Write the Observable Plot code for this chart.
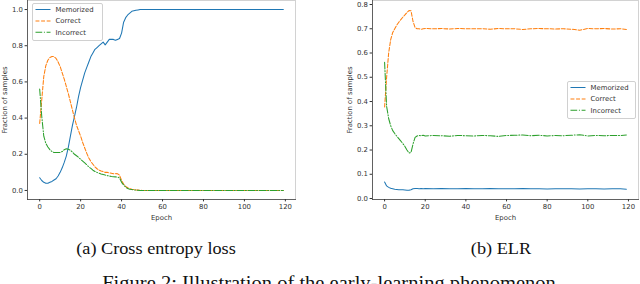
<!DOCTYPE html>
<html>
<head>
<meta charset="utf-8">
<script src="https://cdn.jsdelivr.net/npm/d3@7"></script>
<script src="https://cdn.jsdelivr.net/npm/@observablehq/plot@0.6"></script>
<style>
  html, body { margin: 0; padding: 0; background: #fff; overflow: hidden; }
  #fig { position: relative; width: 640px; height: 284px; overflow: hidden; background: #fff; }
  .panel { position: absolute; top: 0; }
  .legend { position: absolute; background: rgba(255,255,255,0.8); border: 0.6px solid #d0d0d0; border-radius: 2px; }
  .cap { position: absolute; font-family: "Liberation Serif", "DejaVu Serif", serif; color: #111; white-space: nowrap; transform-origin: center; }
</style>
</head>
<body>
<div id="fig"></div>
<script>
// ---------- data ----------
const seriesNames = ["Memorized", "Correct", "Incorrect"];
const seriesColors = ["#1f77b4", "#ff7f0e", "#2ca02c"];
const seriesDash = [null, "3.9,1.7", "6.7,1.7,1.0,1.7"];

const xTicks = [0, 20, 40, 60, 80, 100, 120];
const ceYTicks = [0, 0.2, 0.4, 0.6, 0.8, 1.0];
const elrYTicks = [0, 0.1, 0.2, 0.3, 0.4, 0.5, 0.6, 0.7, 0.8];

// (a) Cross entropy loss
const ceEpoch = [0,1,2,3,4,5,6,7,8,9,10,11,12,13,14,15,16,17,18,19,20,21,22,23,24,25,26,27,28,29,30,31,32,33,34,35,36,37,38,39,40,41,42,43,44,45,46,47,48,49,50,55,60,65,70,75,80,85,90,95,100,105,110,115,119];
const ceMemorized = [0.07,0.055,0.045,0.04,0.04,0.045,0.05,0.058,0.065,0.08,
  0.1,0.125,0.155,0.19,0.24,0.3,0.36,0.41,0.46,0.52,
  0.57,0.61,0.65,0.68,0.71,0.74,0.76,0.78,0.79,0.8,
  0.81,0.82,0.805,0.82,0.835,0.835,0.835,0.83,0.835,0.84,
  0.87,0.93,0.955,0.97,0.98,0.99,0.993,0.996,0.998,1.0,1.0,
  1,1,1,1,1,1,1,1,1,1,1,1,1,1];
const ceCorrect = [0.37,0.5,0.63,0.69,0.72,0.735,0.74,0.74,0.73,0.71,
  0.685,0.65,0.615,0.575,0.535,0.49,0.445,0.4,0.36,0.33,
  0.3,0.265,0.235,0.205,0.18,0.16,0.145,0.13,0.12,0.112,
  0.107,0.104,0.1,0.1,0.097,0.095,0.092,0.093,0.092,0.085,
  0.055,0.035,0.022,0.015,0.01,0.007,0.005,0.003,0.002,0.001,0,
  0,0,0,0,0,0,0,0,0,0,0,0,0,0];
const ceIncorrect = [0.56,0.41,0.3,0.26,0.24,0.225,0.215,0.21,0.21,0.21,
  0.21,0.215,0.225,0.23,0.228,0.222,0.212,0.2,0.192,0.183,
  0.172,0.162,0.152,0.142,0.13,0.122,0.112,0.105,0.1,0.095,
  0.091,0.088,0.085,0.082,0.08,0.077,0.076,0.075,0.074,0.07,
  0.045,0.03,0.018,0.011,0.007,0.005,0.003,0.002,0.001,0,0,
  0,0,0,0,0,0,0,0,0,0,0,0,0,0];

// (b) ELR
const elrEpoch = [0,1,2,3,4,5,6,7,8,9,10,11,12,13,14,15,16,17,18,19,20,24,28,32,36,40,44,48,52,56,60,64,68,72,76,80,84,88,92,96,100,104,108,112,116,119];
const elrMemorized = [0.068,0.052,0.046,0.042,0.04,0.038,0.037,0.036,0.036,0.036,
  0.035,0.034,0.034,0.036,0.04,0.041,0.041,0.04,0.041,0.04,0.041,
  0.04,0.041,0.04,0.04,0.041,0.04,0.04,0.041,0.04,0.04,0.04,0.041,0.04,0.04,0.039,0.04,0.04,0.04,0.039,0.04,0.04,0.039,0.04,0.04,
  0.038];
const elrCorrect = [0.377,0.5,0.6,0.655,0.685,0.7,0.715,0.727,0.738,0.748,
  0.757,0.767,0.775,0.774,0.73,0.705,0.7,0.7,0.698,0.7,0.701,
  0.7,0.701,0.699,0.701,0.7,0.7,0.7,0.698,0.701,0.7,0.7,0.697,0.7,0.701,0.7,0.699,0.7,0.698,0.694,0.701,0.7,0.701,0.699,0.7,
  0.697];
const elrIncorrect = [0.562,0.38,0.33,0.3,0.28,0.268,0.257,0.247,0.237,0.226,
  0.215,0.2,0.188,0.19,0.225,0.252,0.258,0.26,0.259,0.261,0.258,
  0.26,0.259,0.257,0.26,0.259,0.258,0.26,0.259,0.256,0.26,0.261,0.262,0.259,0.261,0.258,0.26,0.259,0.261,0.263,0.258,0.26,0.259,0.26,0.26,
  0.262];

const xLabel = "Epoch";
const yLabel = "Fraction of samples";
const subCaptions = ["(a) Cross entropy loss", "(b) ELR"];
const figCaption = "Figure 2: Illustration of the early-learning phenomenon";

// ---------- build ----------
function toRows(epochs, lists) {
  const rows = [];
  lists.forEach((vals, s) => {
    vals.forEach((v, i) => rows.push({epoch: epochs[i], value: v, series: seriesNames[s]}));
  });
  return rows;
}

function makePanel(rows, cfg) {
  const marks = [
    Plot.frame({stroke: "#c8c8c8", strokeWidth: 0.8}),
    Plot.frame({anchor: "left", stroke: "#444", strokeWidth: 0.8}),
    Plot.frame({anchor: "bottom", stroke: "#444", strokeWidth: 0.8}),
    Plot.axisX({ticks: xTicks, tickSize: 2.4, tickPadding: 2.2, label: xLabel, labelAnchor: "center", labelArrow: "none", labelOffset: 20.5}),
    Plot.axisY({ticks: cfg.yTicks, tickFormat: d3.format(".1f"), tickSize: 2.4, tickPadding: 2.2, label: yLabel, labelAnchor: "center", labelArrow: "none", labelOffset: cfg.labelOffset})
  ];
  seriesNames.forEach((name, s) => {
    marks.push(Plot.lineY(rows.filter(r => r.series === name), {
      x: "epoch", y: "value", stroke: seriesColors[s], strokeWidth: 1.05,
      strokeDasharray: seriesDash[s], curve: "linear"
    }));
  });
  return Plot.plot({
    width: 320, height: 228,
    marginLeft: cfg.marginLeft, marginRight: cfg.marginRight, marginTop: 0, marginBottom: 29,
    style: {fontFamily: "'DejaVu Sans', sans-serif", fontSize: "6.9px", color: "#333", background: "transparent", overflow: "visible"},
    x: {domain: [-5.95, 124.95]},
    y: {domain: cfg.yDomain},
    marks
  });
}

function makeLegend(left, top, width) {
  const div = document.createElement("div");
  div.className = "legend";
  div.style.left = left + "px";
  div.style.top = top + "px";
  const rowH = 11.4, h = seriesNames.length * rowH + 2;
  const svg = d3.create("svg").attr("width", width).attr("height", h).style("display", "block");
  seriesNames.forEach((name, s) => {
    const y = 5.5 + s * rowH;
    svg.append("line").attr("x1", 2.5).attr("x2", 17.5).attr("y1", y).attr("y2", y)
      .attr("stroke", seriesColors[s]).attr("stroke-width", 1.05)
      .attr("stroke-dasharray", seriesDash[s]);
    svg.append("text").attr("x", 22.5).attr("y", y).attr("dy", "0.35em")
      .attr("font-family", "'DejaVu Sans', sans-serif").attr("font-size", 6.9).attr("fill", "#333")
      .text(name);
  });
  div.appendChild(svg.node());
  return div;
}

const fig = document.getElementById("fig");

const left = document.createElement("div");
left.className = "panel"; left.style.left = "0px";
left.appendChild(makePanel(toRows(ceEpoch, [ceMemorized, ceCorrect, ceIncorrect]),
  {yTicks: ceYTicks, yDomain: [-0.05, 1.05], marginLeft: 27, marginRight: 25, labelOffset: 25}));
fig.appendChild(left);

const right = document.createElement("div");
right.className = "panel"; right.style.left = "320px";
right.appendChild(makePanel(toRows(elrEpoch, [elrMemorized, elrCorrect, elrIncorrect]),
  {yTicks: elrYTicks, yDomain: [-0.004, 0.8165], marginLeft: 52, marginRight: 2, labelOffset: 25}));
fig.appendChild(right);

fig.appendChild(makeLegend(32, 3, 69));
fig.appendChild(makeLegend(567, 81, 67));

function addCap(text, cx, top, size) {
  const d = document.createElement("div");
  d.className = "cap";
  d.textContent = text;
  d.style.fontSize = size + "px";
  d.style.top = top + "px";
  d.style.left = cx + "px";
  d.style.transform = "translateX(-50%) scaleX(1.14)";
  fig.appendChild(d);
}
addCap(subCaptions[0], 156, 240, 16);
addCap(subCaptions[1], 501, 240, 16);
addCap(figCaption, 329, 273, 18);
</script>
</body>
</html>
